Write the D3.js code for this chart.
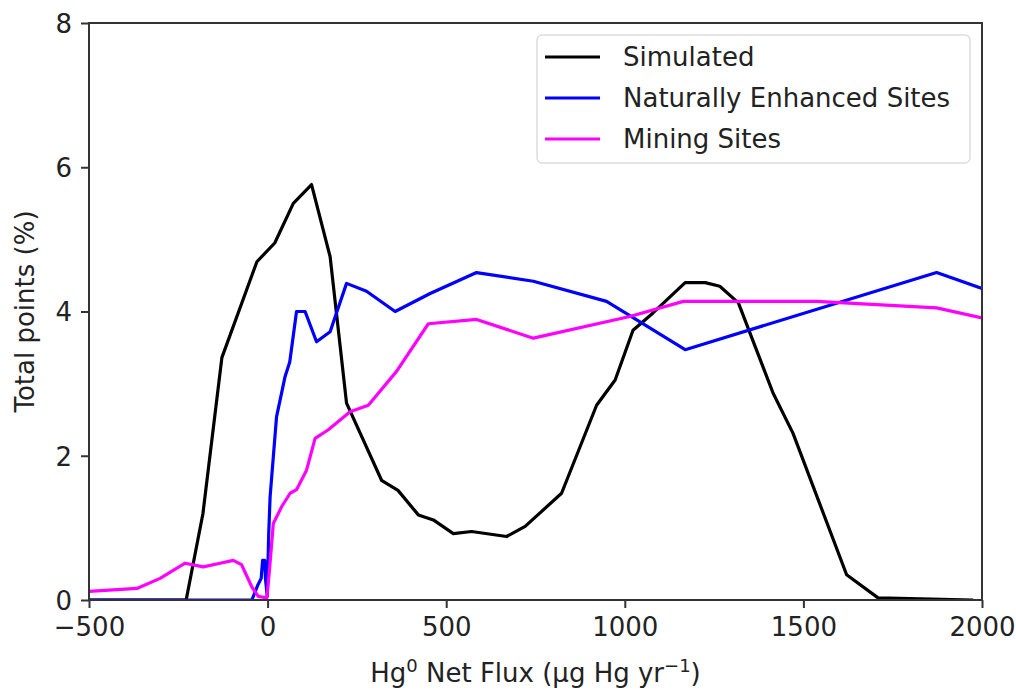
<!DOCTYPE html>
<html>
<head>
<meta charset="utf-8">
<script src="https://cdn.jsdelivr.net/npm/d3@7"></script>
<style>
  body { margin: 0; background: #fff; }
  text { font-family: "DejaVu Sans", sans-serif; fill: #222; }
</style>
</head>
<body>
<svg id="chart" width="1016" height="692"></svg>
<script>
// flux (µg Hg yr-1) vs total points (%)
var simulated = [[-500,0],[-228,0],[-181,1.2],[-128,3.36],[-30,4.69],[20,4.95],[72,5.5],[123,5.76],[175,4.76],[221,2.73],
  [319,1.66],[365,1.52],[422,1.18],[464,1.11],[520,0.92],[571,0.95],[669,0.88],[721,1.02],[823,1.48],[921,2.70],
  [973,3.05],[1023,3.74],[1079,3.98],[1169,4.40],[1225,4.40],[1266,4.35],[1318,4.12],[1415,2.87],[1471,2.31],
  [1621,0.35],[1709,0.03],[1975,0]];
var natural = [[-500,0],[-44,0],[-28,0.2],[-18,0.3],[-14,0.55],[-8,0.55],[-6,0.3],[-1,0.05],[3,0.9],[7,1.43],[25,2.54],
  [49,3.1],[62,3.3],[81,4.0],[105,4.0],[137,3.58],[175,3.72],[221,4.39],[277,4.28],[357,4.0],[455,4.25],[585,4.54],
  [744,4.42],[949,4.14],[1169,3.47],[1873,4.54],[2000,4.32]];
var mining = [[-500,0.12],[-366,0.16],[-301,0.30],[-231,0.51],[-180,0.46],[-133,0.51],[-96,0.55],[-73,0.49],[-44,0.18],
  [-26,0.05],[-2,0.03],[5,0.4],[16,1.06],[40,1.3],[63,1.48],[81,1.53],[109,1.80],[133,2.24],[170,2.36],[231,2.61],
  [282,2.70],[361,3.17],[450,3.83],[585,3.89],[744,3.63],[1014,3.93],[1164,4.14],[1537,4.14],[1873,4.05],[2000,3.91]];

var series = [
  {name: "Simulated", color: "#000000", values: simulated},
  {name: "Naturally Enhanced Sites", color: "#0000ff", values: natural},
  {name: "Mining Sites", color: "#ff00ff", values: mining}
];
var xTicks = [-500, 0, 500, 1000, 1500, 2000];
var yTicks = [0, 2, 4, 6, 8];

var pLeft = 89, pRight = 982, pTop = 23, pBottom = 600;
var fontSize = "26px";

var svg = d3.select("#chart");
var x = d3.scaleLinear().domain([-500, 2000]).range([pLeft, pRight]);
var y = d3.scaleLinear().domain([0, 8]).range([pBottom, pTop]);

var line = d3.line()
  .x(function(d) { return x(d[0]); })
  .y(function(d) { return y(d[1]); });

svg.append("defs").append("clipPath").attr("id", "clip")
  .append("rect").attr("x", pLeft).attr("y", pTop).attr("width", pRight - pLeft).attr("height", pBottom - pTop);

svg.append("g").selectAll(".series")
  .data(series)
  .enter()
  .append("path")
  .attr("class", "series")
  .attr("clip-path", "url(#clip)")
  .attr("fill", "none")
  .attr("stroke", function(d) { return d.color; })
  .attr("stroke-width", 3.2)
  .attr("stroke-linejoin", "round")
  .attr("d", function(d) { return line(d.values); });

// axes
var xAxis = svg.append("g")
  .attr("transform", "translate(0," + pBottom + ")")
  .call(d3.axisBottom(x).tickValues(xTicks).tickSize(8).tickPadding(8)
    .tickFormat(function(d) { return d < 0 ? "\u2212" + Math.abs(d) : d; }));
var yAxis = svg.append("g")
  .attr("transform", "translate(" + pLeft + ",0)")
  .call(d3.axisLeft(y).tickValues(yTicks).tickSize(8).tickPadding(9));

[xAxis, yAxis].forEach(function(a) {
  a.select(".domain").remove();
  a.selectAll("line").attr("stroke", "#333").attr("stroke-width", 2);
  a.selectAll("text").style("font-size", fontSize).attr("fill", "#222");
});
xAxis.selectAll("text").attr("dy", "0.75em");
yAxis.selectAll("text").attr("dy", "0.36em");

svg.append("rect")
  .attr("x", pLeft).attr("y", pTop)
  .attr("width", pRight - pLeft).attr("height", pBottom - pTop)
  .attr("fill", "none").attr("stroke", "#333").attr("stroke-width", 2);

// axis labels
var xl = svg.append("text")
  .attr("x", (pLeft + pRight) / 2).attr("y", 682)
  .attr("text-anchor", "middle")
  .style("font-size", fontSize);
xl.append("tspan").text("Hg");
xl.append("tspan").attr("dy", -10).style("font-size", "18px").text("0");
xl.append("tspan").attr("dy", 10).text(" Net Flux (\u00b5g Hg yr");
xl.append("tspan").attr("dy", -10).style("font-size", "18px").text("\u22121");
xl.append("tspan").attr("dy", 10).text(")");

svg.append("text")
  .attr("transform", "translate(34," + ((pTop + pBottom) / 2) + ") rotate(-90)")
  .attr("text-anchor", "middle")
  .style("font-size", fontSize)
  .text("Total points (%)");

// legend
var legend = svg.append("g");
legend.append("rect")
  .attr("x", 537).attr("y", 35).attr("width", 433).attr("height", 128)
  .attr("rx", 5)
  .attr("fill", "#fff").attr("stroke", "#ddd").attr("stroke-width", 1.5);
var items = legend.selectAll(".item")
  .data(series)
  .enter()
  .append("g")
  .attr("transform", function(d, i) { return "translate(0," + (57 + i * 41) + ")"; });
items.append("line")
  .attr("x1", 545).attr("x2", 600)
  .attr("stroke", function(d) { return d.color; })
  .attr("stroke-width", 3.2);
items.append("text")
  .attr("x", 623).attr("dy", "0.36em")
  .style("font-size", fontSize)
  .text(function(d) { return d.name; });
</script>
</body>
</html>
